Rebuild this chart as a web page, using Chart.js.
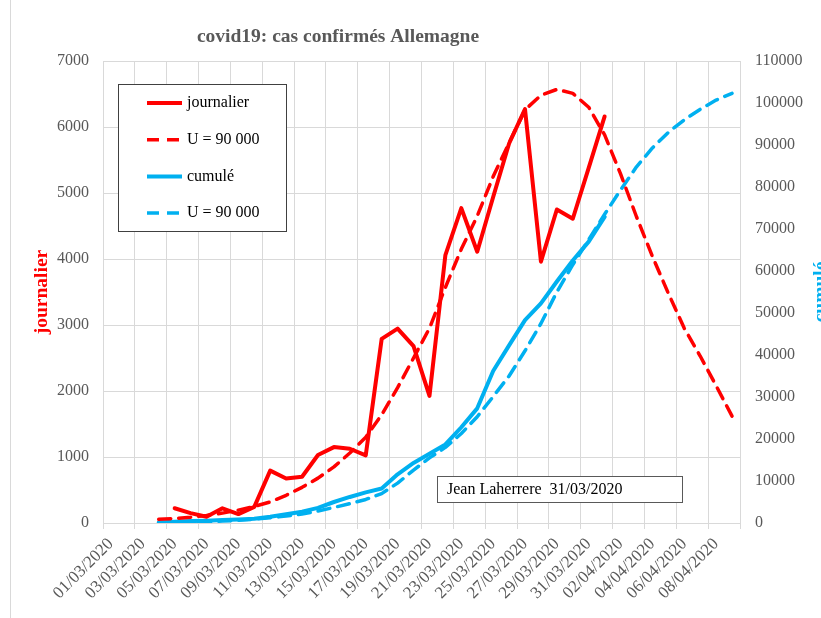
<!DOCTYPE html>
<html>
<head>
<meta charset="utf-8">
<script src="https://cdn.jsdelivr.net/npm/chart.js@4"></script>
<style>
  html, body { margin: 0; padding: 0; background: #fff; }
  #wrap { width: 821px; height: 618px; position: relative; }
</style>
</head>
<body>
<div id="wrap"><canvas id="graphique"></canvas></div>
<script>
// une catégorie par jour, du 01/03 au 09/04
const dates = [
  '01/03/2020', '02/03/2020', '03/03/2020', '04/03/2020', '05/03/2020',
  '06/03/2020', '07/03/2020', '08/03/2020', '09/03/2020', '10/03/2020',
  '11/03/2020', '12/03/2020', '13/03/2020', '14/03/2020', '15/03/2020',
  '16/03/2020', '17/03/2020', '18/03/2020', '19/03/2020', '20/03/2020',
  '21/03/2020', '22/03/2020', '23/03/2020', '24/03/2020', '25/03/2020',
  '26/03/2020', '27/03/2020', '28/03/2020', '29/03/2020', '30/03/2020',
  '31/03/2020', '01/04/2020', '02/04/2020', '03/04/2020', '04/04/2020',
  '05/04/2020', '06/04/2020', '07/04/2020', '08/04/2020', '09/04/2020'
];

// cas journaliers (axe gauche)
const journalier = [
  null, null, null, null, 223, 150, 95, 223, 135, 245,
  793, 675, 700, 1030, 1150, 1125, 1025, 2790, 2945, 2680,
  1925, 4060, 4770, 4110, 4940, 5750, 6270, 3960, 4750, 4610,
  5380, 6160, null, null, null, null, null, null, null, null
];
const modeleJour = [
  null, null, null, 56, 68, 88, 115, 150, 195, 250,
  320, 420, 540, 680, 850, 1060, 1300, 1640, 2050, 2500,
  2950, 3570, 4150, 4650, 5250, 5760, 6260, 6480, 6570, 6510,
  6300, 5880, 5290, 4640, 4040, 3480, 2950, 2530, 2080, 1620
];

// cas cumulés (axe droit)
const cumule = [
  null, null, null, 100, 300, 450, 550, 700, 850, 1000,
  1500, 2100, 2700, 3600, 5000, 6200, 7300, 8200, 11600, 14300,
  16500, 18700, 22800, 27300, 36200, 42300, 48300, 52300, 57500, 62500,
  67000, 72900, null, null, null, null, null, null, null, null
];
const modeleCumul = [
  null, null, null, 50, 100, 200, 300, 450, 650, 900,
  1250, 1650, 2150, 2850, 3700, 4600, 5600, 7000, 9500, 12600,
  15500, 18000, 21300, 25300, 30100, 35000, 41000, 47500, 55000, 61500,
  67500, 73500, 79300, 84800, 89300, 93000, 96000, 98500, 100700, 102300
];

const titre = 'covid19: cas confirmés Allemagne';
const signature = 'Jean Laherrere  31/03/2020';

const serif = "'Liberation Serif', 'Times New Roman', serif";
const gris = '#595959';
const grille = '#d9d9d9';
const rouge = '#ff0000';
const bleu = '#00b0f0';

// titre, titre de l'axe droit, legende et cartouche
const decor = {
  id: 'decor',
  beforeDraw(chart) {
    const c = chart.ctx;
    c.save();
    c.fillStyle = '#fff';
    c.fillRect(0, 0, chart.width, chart.height);
    c.strokeStyle = grille;
    c.lineWidth = 1;
    c.beginPath();
    c.moveTo(10.5, 0);
    c.lineTo(10.5, chart.height);
    c.stroke();
    c.restore();
  },
  afterDraw(chart) {
    const c = chart.ctx;
    const a = chart.chartArea;
    c.save();
    c.font = 'bold 19.5px ' + serif;
    c.fillStyle = gris;
    c.textAlign = 'center';
    c.textBaseline = 'middle';
    c.fillText(titre, 338, 37);

    // titre axe droit, coupé par le bord comme sur l'original
    c.save();
    c.translate(821, (a.top + a.bottom) / 2);
    c.rotate(-Math.PI / 2);
    c.fillStyle = bleu;
    c.fillText('cumulé', 0, 0);
    c.restore();

    // legende
    const lx = a.left + 15, ly = a.top + 23;
    c.fillStyle = '#fff';
    c.fillRect(lx, ly, 168, 147);
    c.strokeStyle = '#404040';
    c.lineWidth = 1;
    c.strokeRect(lx + 0.5, ly + 0.5, 168, 147);
    c.font = '16px ' + serif;
    c.textAlign = 'left';
    chart.data.datasets.forEach((ds, i) => {
      const y = ly + 19 + i * 36.7;
      c.strokeStyle = ds.borderColor;
      c.lineWidth = ds.borderWidth;
      c.setLineDash(ds.borderDash || []);
      c.beginPath();
      c.moveTo(lx + 29, y);
      c.lineTo(lx + 64, y);
      c.stroke();
      c.setLineDash([]);
      c.fillStyle = '#000';
      c.fillText(ds.label, lx + 69, y);
    });

    // cartouche
    const bx = a.left + 334, by = a.bottom - 47;
    c.fillStyle = '#fff';
    c.fillRect(bx, by, 245, 26);
    c.strokeStyle = gris;
    c.lineWidth = 1;
    c.strokeRect(bx + 0.5, by + 0.5, 245, 26);
    c.fillStyle = '#000';
    c.fillText(signature, bx + 10, by + 14);
    c.restore();
  }
};

const ctx = document.getElementById('graphique').getContext('2d');
new Chart(ctx, {
  type: 'line',
  data: {
    labels: dates,
    datasets: [
      { label: 'journalier', data: journalier, yAxisID: 'y', borderColor: rouge, borderWidth: 4 },
      { label: 'U = 90 000', data: modeleJour, yAxisID: 'y', borderColor: rouge, borderWidth: 3.5, borderDash: [12, 8] },
      { label: 'cumulé', data: cumule, yAxisID: 'y1', borderColor: bleu, borderWidth: 4 },
      { label: 'U = 90 000', data: modeleCumul, yAxisID: 'y1', borderColor: bleu, borderWidth: 3.5, borderDash: [12, 8] }
    ]
  },
  options: {
    responsive: true,
    maintainAspectRatio: false,
    animation: false,
    layout: { padding: { top: 61, left: 0, right: 0, bottom: 0 } },
    elements: {
      point: { radius: 0 },
      line: { tension: 0, borderCapStyle: 'round', borderJoinStyle: 'round', fill: false }
    },
    plugins: {
      legend: { display: false },
      tooltip: { enabled: false }
    },
    scales: {
      x: {
        offset: true,
        grid: {
          offset: true,
          tickLength: 6,
          color: c => (c.index === undefined || c.index % 2 === 0) ? grille : 'rgba(0,0,0,0)'
        },
        border: { color: grille },
        ticks: {
          autoSkip: false,
          maxRotation: 45,
          minRotation: 45,
          padding: 5,
          color: gris,
          font: { family: serif, size: 17 },
          callback: (v, i) => i % 2 === 0 ? dates[i] : ''
        },
        afterFit: s => { s.height = 95; }
      },
      y: {
        position: 'left',
        min: 0,
        max: 7000,
        grid: { color: grille, drawTicks: false },
        border: { color: grille },
        ticks: { stepSize: 1000, padding: 14, color: gris, font: { family: serif, size: 16 }, callback: v => String(v) },
        title: { display: true, text: 'journalier', color: rouge, font: { family: serif, size: 19.5, weight: 'bold' }, padding: { top: 30 } },
        afterFit: s => { s.width = 103; }
      },
      y1: {
        position: 'right',
        min: 0,
        max: 110000,
        grid: { drawOnChartArea: false, drawTicks: false },
        border: { display: false },
        ticks: { stepSize: 10000, padding: 15, color: gris, font: { family: serif, size: 16 }, callback: v => String(v) },
        afterFit: s => { s.width = 81; }
      }
    }
  },
  plugins: [decor]
});
</script>
</body>
</html>
